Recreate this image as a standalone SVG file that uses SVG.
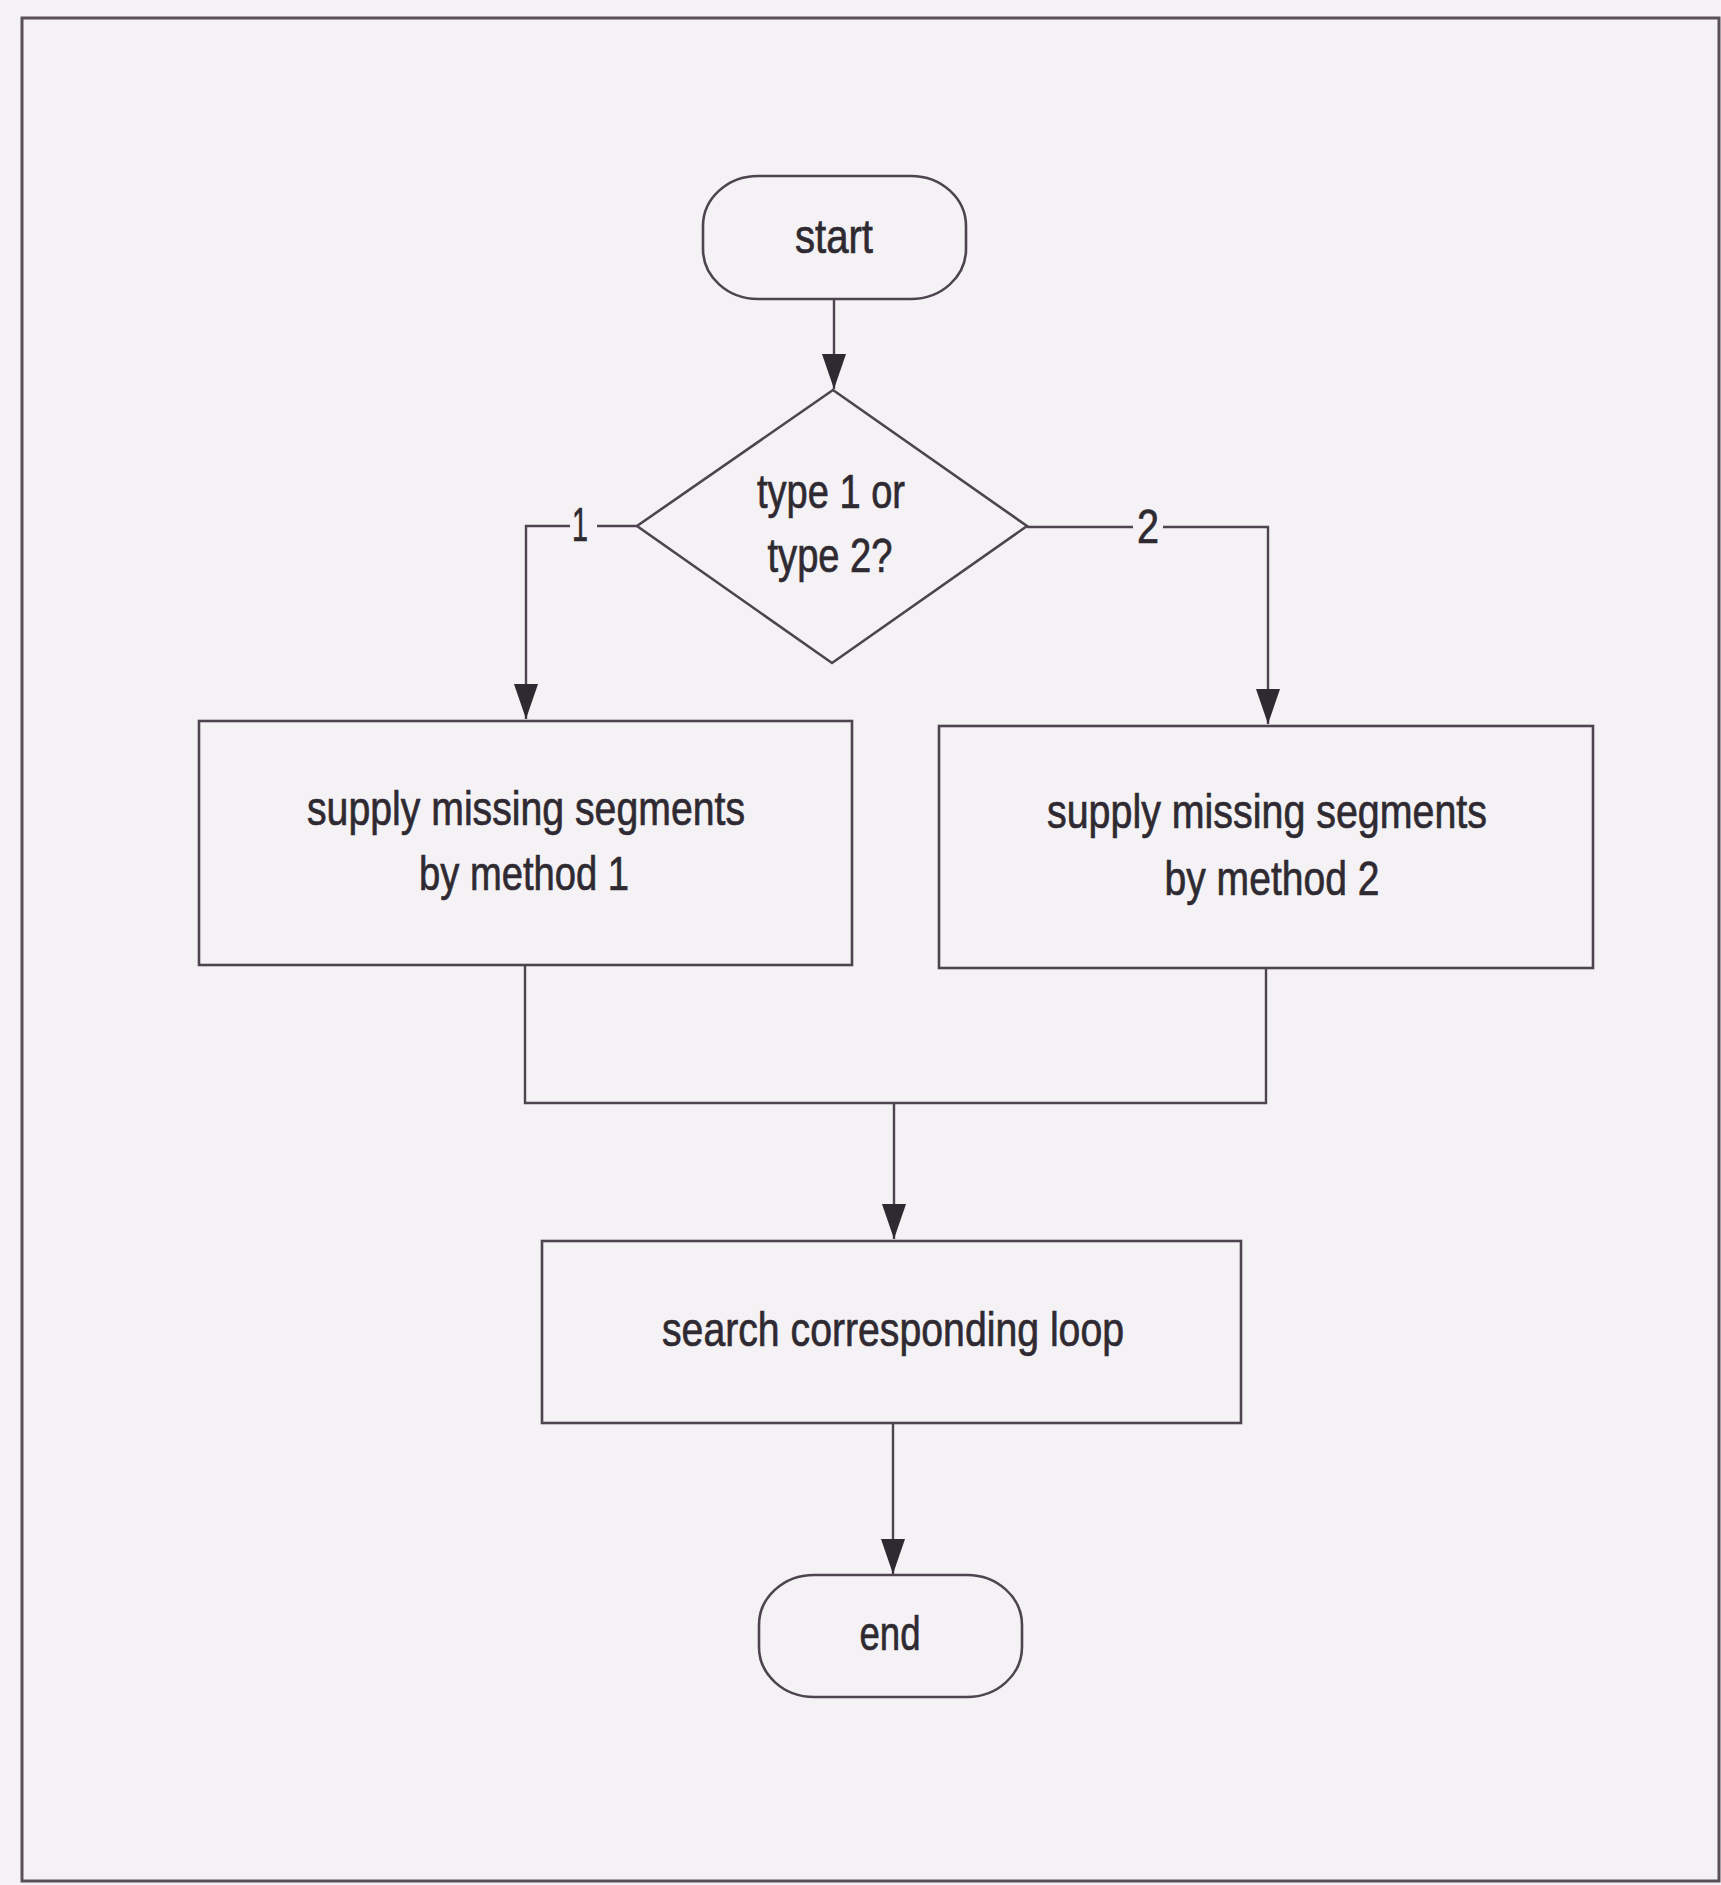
<svg xmlns="http://www.w3.org/2000/svg" width="1721" height="1885" viewBox="0 0 1721 1885">
  <defs>
    <style>
      .shape { fill: none; stroke: #4e4450; stroke-width: 2.6; }
      .wire { fill: none; stroke: #4e4450; stroke-width: 2.4; }
      .label { font-family: "Liberation Sans", Arial, sans-serif; font-size: 48px; fill: #2f2a32; stroke: #2f2a32; stroke-width: 0.7; text-anchor: middle; }
    </style>
    <marker id="arrow" markerUnits="userSpaceOnUse" markerWidth="36" markerHeight="26" viewBox="0 0 36 26" refX="35" refY="13" orient="auto">
      <path d="M0,1 L35,13 L0,25 Z" fill="#2f2a32"/>
    </marker>
  </defs>

  <!-- page -->
  <rect x="0" y="0" width="1721" height="1885" fill="#f4f2f4"/>
  <rect x="22" y="18" width="1697" height="1863" fill="none" stroke="#5a5058" stroke-width="3"/>

  <!-- connectors -->
  <g id="connectors">
    <path class="wire" d="M834,299 V389" marker-end="url(#arrow)"/>
    <path class="wire" d="M637,526 H597 M570,526 H526 V719" marker-end="url(#arrow)"/>
    <path class="wire" d="M1027,527 H1133 M1163,527 H1268 V724" marker-end="url(#arrow)"/>
    <path class="wire" d="M525,965 V1103 H1266 V968"/>
    <path class="wire" d="M894,1103 V1239" marker-end="url(#arrow)"/>
    <path class="wire" d="M893,1423 V1574" marker-end="url(#arrow)"/>
    <text class="label" x="580" y="541" textLength="16" lengthAdjust="spacingAndGlyphs">1</text>
    <text class="label" x="1148" y="543" textLength="22" lengthAdjust="spacingAndGlyphs">2</text>
  </g>

  <!-- nodes -->
  <g id="start">
    <rect class="shape" x="703" y="176" width="263" height="123" rx="55" ry="50"/>
    <text class="label" x="834" y="253" textLength="78" lengthAdjust="spacingAndGlyphs">start</text>
  </g>

  <g id="decision">
    <polygon class="shape" points="833,390 1027,526 832,663 637,526"/>
    <text class="label" x="831" y="508" textLength="148" lengthAdjust="spacingAndGlyphs">type 1 or</text>
    <text class="label" x="830" y="572" textLength="125" lengthAdjust="spacingAndGlyphs">type 2?</text>
  </g>

  <g id="method1">
    <rect class="shape" x="199" y="721" width="653" height="244"/>
    <text class="label" x="526" y="825" textLength="438" lengthAdjust="spacingAndGlyphs">supply missing segments</text>
    <text class="label" x="524" y="890" textLength="210" lengthAdjust="spacingAndGlyphs">by method 1</text>
  </g>

  <g id="method2">
    <rect class="shape" x="939" y="726" width="654" height="242"/>
    <text class="label" x="1267" y="828" textLength="440" lengthAdjust="spacingAndGlyphs">supply missing segments</text>
    <text class="label" x="1272" y="895" textLength="215" lengthAdjust="spacingAndGlyphs">by method 2</text>
  </g>

  <g id="search">
    <rect class="shape" x="542" y="1241" width="699" height="182"/>
    <text class="label" x="893" y="1346" textLength="462" lengthAdjust="spacingAndGlyphs">search corresponding loop</text>
  </g>

  <g id="end">
    <rect class="shape" x="759" y="1575" width="263" height="122" rx="55" ry="50"/>
    <text class="label" x="890" y="1650" textLength="61" lengthAdjust="spacingAndGlyphs">end</text>
  </g>
</svg>
